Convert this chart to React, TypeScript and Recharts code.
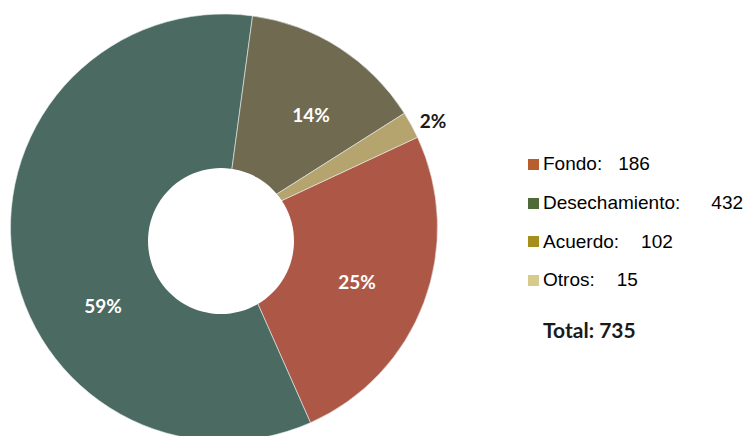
import React from 'react';
import { PieChart, Pie, Cell, Legend } from 'recharts';

const categories = ['Fondo', 'Desechamiento', 'Acuerdo', 'Otros'];
const counts = [186, 432, 102, 15];
const totalLabel = 'Total';

const sliceColors = ['#AD5746', '#4B6A62', '#6F6A50', '#B5A46E'];
const legendColors = ['#B85D2C', '#4E6A38', '#A58E1C', '#D6CB8A'];
const labelColors = ['#FFFFFF', '#FFFFFF', '#FFFFFF', '#1A1A1A'];

const total = counts.reduce((a, b) => a + b, 0);
const data = categories.map((name, i) => ({ name, value: counts[i] }));
const holeData = [{ name: 'hole', value: 1 }];

// manual label placement (radius, angle in degrees) like the dragged labels of the original
const labelPlacement: [number, number][] = [
  [143.7, -22.3],
  [144.5, -146.9],
  [142.2, 52.3],
  [234.6, 27],
];
const valueGaps = [16, 31, 22, 22];

const RAD = Math.PI / 180;

const renderLabel = (props: any) => {
  const { cx, cy, index, value } = props;
  const [r, a] = labelPlacement[index];
  const x = cx + r * Math.cos(a * RAD);
  const y = cy - r * Math.sin(a * RAD);
  const pct = Math.round((value / total) * 100);
  const fs = 19;
  return (
    <text
      x={x}
      y={y + fs * 0.36}
      textAnchor="middle"
      fill={labelColors[index]}
      fontFamily="Lato, 'Open Sans', sans-serif"
      fontWeight="bold"
      fontSize={fs}
    >
      {pct}%
    </text>
  );
};

const rowCenters = [165, 204, 242.5, 281];

const LegendContent = () => (
  <div style={{ position: 'absolute', left: 0, top: 0, width: 744, height: 436, pointerEvents: 'none' }}>
    {categories.map((name, i) => (
      <div key={name}>
        <div
          style={{
            position: 'absolute',
            left: 528,
            top: rowCenters[i] - 6.5,
            width: 11,
            height: 11,
            background: legendColors[i],
          }}
        />
        <div
          style={{
            position: 'absolute',
            left: 543,
            top: rowCenters[i] - 12,
            height: 22,
            lineHeight: '22px',
            fontFamily: "'Liberation Sans', Arial, sans-serif",
            fontSize: 19,
            color: '#000',
            whiteSpace: 'nowrap',
          }}
        >
          {name}:<span style={{ marginLeft: valueGaps[i] }}>{counts[i]}</span>
        </div>
      </div>
    ))}
    <div
      style={{
        position: 'absolute',
        left: 543,
        top: 317,
        height: 26,
        lineHeight: '26px',
        fontFamily: "Lato, 'Open Sans', sans-serif",
        fontWeight: 'bold',
        fontSize: 21,
        color: '#1A1A1A',
        whiteSpace: 'nowrap',
      }}
    >
      {totalLabel}: {total}
    </div>
  </div>
);

export default function App() {
  return (
    <div style={{ position: 'absolute', left: 0, top: 0, width: 744, height: 436, background: '#fff' }}>
      <PieChart width={744} height={436} margin={{ top: 0, right: 0, bottom: 0, left: 0 }}>
        <Pie
          data={data}
          dataKey="value"
          nameKey="name"
          cx={224}
          cy={227.5}
          innerRadius={0}
          outerRadius={213.5}
          startAngle={25}
          endAngle={-335}
          stroke="#E8EEF0"
          strokeWidth={0.6}
          label={renderLabel}
          labelLine={false}
          isAnimationActive={false}
        >
          {data.map((d, i) => (
            <Cell key={d.name} fill={sliceColors[i]} />
          ))}
        </Pie>
        <Pie
          data={holeData}
          dataKey="value"
          cx={221}
          cy={241}
          innerRadius={0}
          outerRadius={73}
          stroke="none"
          fill="#FFFFFF"
          legendType="none"
          isAnimationActive={false}
        />
        <Legend
          content={() => <LegendContent />}
          wrapperStyle={{ position: 'absolute', left: 0, top: 0, width: 744, height: 436 }}
        />
      </PieChart>
    </div>
  );
}
